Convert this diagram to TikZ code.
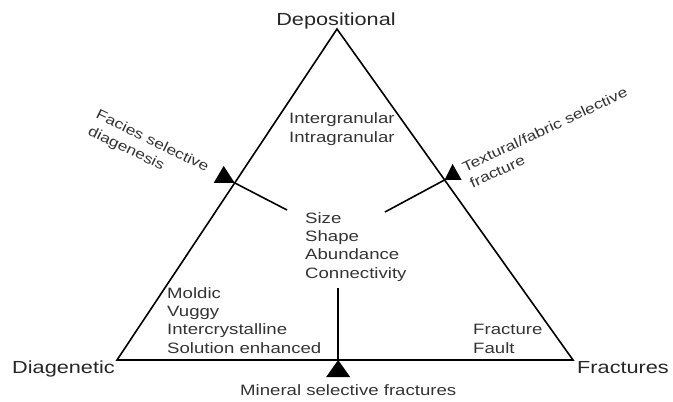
\documentclass[tikz,border=0pt]{standalone}
\usepackage{fontspec}
\setmainfont[FakeStretch=1.24]{Liberation Sans}
\usetikzlibrary{calc}

\tikzset{
  lbl/.style={text=black!80, font=\fontsize{15}{18.3}\selectfont, inner sep=0pt, align=left},
  cornerlbl/.style={text=black!85, font=\fontsize{17.5}{21}\selectfont, inner sep=0pt},
  slant/.style={lbl, font=\fontsize{14}{18}\selectfont},
  rim/.style={black, line width=1.6pt},
}

\begin{document}
\begin{tikzpicture}[x=1pt, y=-1pt]
\useasboundingbox (0,0) rectangle (673,402);
% corners of the triangle
\coordinate (dep) at (337,29);
\coordinate (dia) at (117,360);
\coordinate (fra) at (573,360);
\draw[rim, line join=miter] (dep) -- (dia) -- (fra) -- cycle;

% where the markers sit on the sides
\coordinate (tl) at ($(dia)!0.535!(dep)$);
\coordinate (tr) at ($(fra)!0.544!(dep)$);
\coordinate (tb) at ($(dia)!0.485!(fra)$);
\coordinate (el) at (287,210);
\coordinate (er) at (385,212);
\coordinate (eb) at ($(tb)+(0,-72)$);

\fill (tl) -- ++(-21,0) -- ++(10,-17) -- cycle;
\fill (tr) -- ++(17,0) -- ++(-9,-16) -- cycle;
\fill (tb) -- ++(-12,17) -- ++(24,0) -- cycle;
\draw[rim] (tl) -- (el);
\draw[rim] (tr) -- (er);
\draw[rim] (tb) -- (eb);

% labels (base = last line)
\node[cornerlbl, anchor=base] (depl) at (336,25) {Depositional};
\node[cornerlbl, anchor=base west] (dial) at (12,373) {Diagenetic};
\node[cornerlbl, anchor=base west] (fral) at (577,373) {Fractures};
\node[lbl, anchor=base west] (pore) at (289,142) {Intergranular\\Intragranular};
\node[lbl, anchor=base west] (geom) at (305,278) {Size\\Shape\\Abundance\\Connectivity};
\node[lbl, anchor=base west] (diag) at (167,353) {Moldic\\Vuggy\\Intercrystalline\\Solution enhanced};
\node[lbl, anchor=base west] (frac) at (473,353) {Fracture\\Fault};
\node[lbl, anchor=base west] (mins) at (240,395) {Mineral selective fractures};
\node[slant, anchor=base west, rotate=-26] (facs) at (87,134) {Facies selective\\diagenesis};
\node[slant, anchor=base west, rotate=25] (texs) at (472.5,188.5) {Textural/fabric selective\\fracture};
\end{tikzpicture}
\end{document}
